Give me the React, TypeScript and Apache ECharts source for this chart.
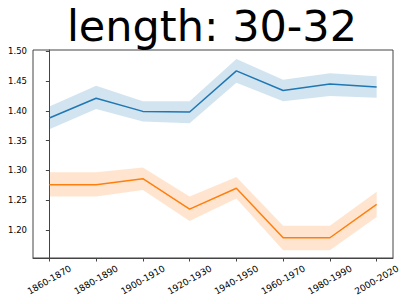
import React, { useEffect, useRef } from "react";
import * as echarts from "echarts";

const categories = ["1860-1870", "1880-1890", "1900-1910", "1920-1930", "1940-1950", "1960-1970", "1980-1990", "2000-2020"];
const blueMean = [1.388, 1.421, 1.399, 1.398, 1.467, 1.434, 1.445, 1.440];
const blueUpper = [1.407, 1.442, 1.416, 1.416, 1.487, 1.452, 1.463, 1.458];
const blueLower = [1.369, 1.403, 1.382, 1.379, 1.447, 1.416, 1.425, 1.422];
const orangeMean = [1.276, 1.276, 1.286, 1.235, 1.270, 1.187, 1.187, 1.243];
const orangeUpper = [1.297, 1.297, 1.305, 1.256, 1.289, 1.207, 1.207, 1.264];
const orangeLower = [1.256, 1.256, 1.267, 1.215, 1.253, 1.166, 1.166, 1.222];
const yTicks = [1.2, 1.25, 1.3, 1.35, 1.4, 1.45, 1.5];
const titleText = "length: 30-32";

const FONT = "DejaVu Sans";

function band(mean: number[], upper: number[], lower: number[], color: string) {
  return {
    type: "custom",
    silent: true,
    z: 1,
    data: mean.map((v, i) => [i, v]),
    encode: { x: 0, y: 1 },
    renderItem: (params: any, api: any) => {
      if (params.dataIndex !== 0) return null;
      const pts: number[][] = [];
      for (let i = 0; i < upper.length; i++) pts.push(api.coord([i, upper[i]]));
      for (let i = lower.length - 1; i >= 0; i--) pts.push(api.coord([i, lower[i]]));
      return {
        type: "polygon",
        shape: { points: pts },
        style: { fill: color, opacity: 0.2, stroke: "none" },
      };
    },
  };
}

function line(mean: number[], color: string) {
  return {
    type: "line",
    z: 3,
    data: mean.map((v, i) => [i, v]),
    showSymbol: false,
    symbol: "none",
    lineStyle: { color, width: 1.5 },
    itemStyle: { color },
  };
}

export default function App() {
  const ref = useRef<HTMLDivElement>(null);
  useEffect(() => {
    if (!ref.current) return;
    const chart = echarts.init(ref.current, undefined, { renderer: "svg" });
    chart.setOption({
      animation: false,
      backgroundColor: "#fff",
      title: {
        text: titleText,
        left: 212,
        textAlign: "center",
        top: 0,
        padding: 0,
        textStyle: { fontFamily: FONT, fontSize: 43, fontWeight: "normal", color: "#000", lineHeight: 52 },
      },
      grid: {
        left: 33,
        right: 14,
        top: 50,
        bottom: 46,
        outerBoundsMode: "none",
        containLabel: false,
        show: true,
        borderColor: "#444",
        borderWidth: 1,
        backgroundColor: "transparent",
      },
      xAxis: {
        type: "value",
        min: -0.35,
        max: 7.35,
        splitLine: { show: false },
        axisLine: { show: true, lineStyle: { color: "#444", width: 1 } },
        axisTick: { show: true, customValues: categories.map((_, i) => i), length: 3.5, lineStyle: { color: "#444" } },
        axisLabel: {
          customValues: categories.map((_, i) => i),
          formatter: (v: number) => categories[Math.round(v)] ?? "",
          rotate: 30,
          align: "center",
          verticalAlign: "middle",
          margin: 22,
          fontFamily: FONT,
          fontSize: 9,
          color: "#000",
        },
      },
      yAxis: {
        type: "value",
        min: 1.153,
        max: 1.502,
        splitLine: { show: false },
        axisLine: { show: true, lineStyle: { color: "#444", width: 1 } },
        axisTick: { show: true, customValues: yTicks, length: 3.5, lineStyle: { color: "#444" } },
        axisLabel: {
          customValues: yTicks,
          formatter: (v: number) => v.toFixed(2),
          margin: 6,
          fontFamily: FONT,
          fontSize: 8.5,
          color: "#000",
        },
      },
      series: [
        band(blueMean, blueUpper, blueLower, "#1f77b4"),
        band(orangeMean, orangeUpper, orangeLower, "#ff7f0e"),
        line(blueMean, "#1f77b4"),
        line(orangeMean, "#ff7f0e"),
      ],
    });
    return () => chart.dispose();
  }, []);
  return <div ref={ref} style={{ position: "fixed", left: 0, top: 0, width: 407, height: 304 }} />;
}
